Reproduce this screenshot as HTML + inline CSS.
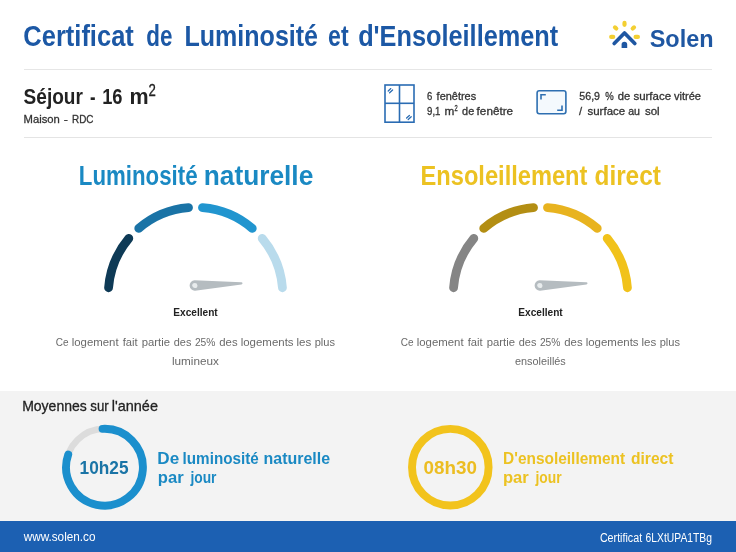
<!DOCTYPE html>
<html><head><meta charset="utf-8"><style>
html,body{margin:0;padding:0;}
body{width:736px;height:552px;overflow:hidden;position:relative;background:#fff;font-family:"Liberation Sans",sans-serif;}
svg{position:absolute;left:0;top:0;will-change:transform;}
</style></head><body>
<svg width="736" height="552" viewBox="0 0 736 552" font-family="Liberation Sans, sans-serif">
<rect x="0" y="0" width="736" height="552" fill="#ffffff"/>
<rect x="24" y="69" width="688" height="1" fill="#e6e6e6"/>
<rect x="24" y="137" width="688" height="1" fill="#e4e4e4"/>
<rect x="0" y="391" width="736" height="130" fill="#f3f3f3"/>
<rect x="0" y="521" width="736" height="31" fill="#1c60b2"/>
<g stroke="#f3cf32" stroke-width="4.2" stroke-linecap="round" fill="none"><line x1="624.5" y1="22.9" x2="624.5" y2="24.8"/><line x1="615.0" y1="27.4" x2="616.3" y2="28.5"/><line x1="634.0" y1="27.4" x2="632.7" y2="28.5"/><line x1="611.2" y1="36.9" x2="613.2" y2="36.9"/><line x1="635.6" y1="36.9" x2="637.9" y2="36.9"/></g><path d="M614.2 43.5L624.5 33L634.8 43.5" fill="none" stroke="#1f57a2" stroke-width="3.7" stroke-linecap="round" stroke-linejoin="round"/><path d="M621.6 48V44.5A2.8 2.8 0 0 1 627.2 44.5V48Z" fill="#1f57a2"/>
<g fill="none" stroke="#2a6cb3" stroke-width="1.6"><rect x="385" y="85" width="29" height="37.2"/><line x1="399.5" y1="85" x2="399.5" y2="122.2"/><line x1="385" y1="103.3" x2="414" y2="103.3"/></g><g stroke="#2a6cb3" stroke-width="1.3" stroke-linecap="round"><line x1="388.2" y1="91.0" x2="390.8" y2="88.6"/><line x1="389.6" y1="92.8" x2="392.6" y2="90.0"/><line x1="406.6" y1="118.0" x2="409.4" y2="115.4"/><line x1="408.2" y1="119.6" x2="411.2" y2="116.8"/></g>
<rect x="537.1" y="90.8" width="28.8" height="23" rx="2.2" fill="#f4f9fd" stroke="#2e6fb1" stroke-width="1.6"/><path d="M541 99.5V94.8H545.8M562 105.5V110.2H557.2" fill="none" stroke="#2e6fb1" stroke-width="1.6"/>
<path d="M108.57 287.76A87.2 87.2 0 0 1 128.80 238.43" stroke="#0e3a56" stroke-width="8.8" fill="none" stroke-linecap="round"/><path d="M138.75 228.39A87.2 87.2 0 0 1 188.51 207.68" stroke="#1a73a6" stroke-width="8.8" fill="none" stroke-linecap="round"/><path d="M202.49 207.68A87.2 87.2 0 0 1 252.25 228.39" stroke="#2195cf" stroke-width="8.8" fill="none" stroke-linecap="round"/><path d="M262.20 238.43A87.2 87.2 0 0 1 282.43 287.76" stroke="#b9dbec" stroke-width="8.8" fill="none" stroke-linecap="round"/><path d="M453.57 287.76A87.2 87.2 0 0 1 473.80 238.43" stroke="#858585" stroke-width="8.8" fill="none" stroke-linecap="round"/><path d="M483.75 228.39A87.2 87.2 0 0 1 533.51 207.68" stroke="#b38e13" stroke-width="8.8" fill="none" stroke-linecap="round"/><path d="M547.49 207.68A87.2 87.2 0 0 1 597.25 228.39" stroke="#e8b31f" stroke-width="8.8" fill="none" stroke-linecap="round"/><path d="M607.20 238.43A87.2 87.2 0 0 1 627.43 287.76" stroke="#f1c21b" stroke-width="8.8" fill="none" stroke-linecap="round"/><g transform="translate(194.8 285.5) rotate(-2.58)"><path d="M0 -5.2 L46.65 -1.1 A1.1 1.1 0 0 1 46.65 1.1 L0 5.2 A5.2 5.2 0 0 1 0 -5.2Z" fill="#b5bcc0"/><circle cx="0" cy="0" r="2.6" fill="#e8eced"/></g><g transform="translate(539.8 285.5) rotate(-2.58)"><path d="M0 -5.2 L46.65 -1.1 A1.1 1.1 0 0 1 46.65 1.1 L0 5.2 A5.2 5.2 0 0 1 0 -5.2Z" fill="#b5bcc0"/><circle cx="0" cy="0" r="2.6" fill="#e8eced"/></g>
<circle cx="104.5" cy="467.2" r="38.4" stroke="#dcdcdc" stroke-width="6.5" fill="none"/><path d="M102.56 428.85A38.4 38.4 0 1 1 68.24 454.57" stroke="#1b8fcd" stroke-width="7.9" fill="none" stroke-linecap="round"/><circle cx="450.3" cy="467.2" r="38.3" stroke="#f2c31c" stroke-width="7.9" fill="none"/>
<text x="23.32" y="45.50" font-size="29" font-weight="700" fill="#1c58a5" textLength="110.48" lengthAdjust="spacingAndGlyphs">Certificat</text><text x="146.33" y="45.50" font-size="29" font-weight="700" fill="#1c58a5" textLength="26.17" lengthAdjust="spacingAndGlyphs">de</text><text x="184.54" y="45.50" font-size="29" font-weight="700" fill="#1c58a5" textLength="133.47" lengthAdjust="spacingAndGlyphs">Luminosité</text><text x="328.10" y="45.50" font-size="29" font-weight="700" fill="#1c58a5" textLength="20.52" lengthAdjust="spacingAndGlyphs">et</text><text x="358.13" y="45.50" font-size="29" font-weight="700" fill="#1c58a5" textLength="200.07" lengthAdjust="spacingAndGlyphs">d&#39;Ensoleillement</text><text x="649.70" y="46.50" font-size="23" font-weight="700" fill="#1f57a2" textLength="63.87" lengthAdjust="spacingAndGlyphs">Solen</text><text x="23.60" y="104.30" font-size="21.5" font-weight="700" fill="#222222" textLength="59.24" lengthAdjust="spacingAndGlyphs">Séjour</text><text x="89.90" y="104.30" font-size="21.5" font-weight="700" fill="#222222" textLength="5.52" lengthAdjust="spacingAndGlyphs">-</text><text x="102.15" y="104.30" font-size="21.5" font-weight="700" fill="#222222" textLength="20.31" lengthAdjust="spacingAndGlyphs">16</text><text x="129.50" y="104.30" font-size="21.5" font-weight="700" fill="#222222" textLength="19.12" lengthAdjust="spacingAndGlyphs">m</text><text x="148.50" y="96.00" font-size="16.5" font-weight="400" fill="#222222" stroke="#222222" stroke-width="0.3" textLength="7.34" lengthAdjust="spacingAndGlyphs">2</text><text x="23.60" y="122.70" font-size="11.5" font-weight="400" fill="#333333" stroke="#333333" stroke-width="0.3" textLength="36.29" lengthAdjust="spacingAndGlyphs">Maison</text><text x="63.83" y="122.70" font-size="11.5" font-weight="400" fill="#333333" stroke="#333333" stroke-width="0.3" textLength="4.15" lengthAdjust="spacingAndGlyphs">-</text><text x="72.00" y="122.70" font-size="11.5" font-weight="400" fill="#333333" stroke="#333333" stroke-width="0.3" textLength="21.46" lengthAdjust="spacingAndGlyphs">RDC</text><text x="427.10" y="99.80" font-size="11.2" font-weight="400" fill="#333333" stroke="#333333" stroke-width="0.3" textLength="5.29" lengthAdjust="spacingAndGlyphs">6</text><text x="436.60" y="99.80" font-size="11.2" font-weight="400" fill="#333333" stroke="#333333" stroke-width="0.3" textLength="39.60" lengthAdjust="spacingAndGlyphs">fenêtres</text><text x="427.10" y="115.30" font-size="11.2" font-weight="400" fill="#333333" stroke="#333333" stroke-width="0.3" textLength="13.39" lengthAdjust="spacingAndGlyphs">9,1</text><text x="444.40" y="115.30" font-size="11.2" font-weight="400" fill="#333333" stroke="#333333" stroke-width="0.3" textLength="9.84" lengthAdjust="spacingAndGlyphs">m</text><text x="454.60" y="111.20" font-size="8.5" font-weight="400" fill="#333333" stroke="#333333" stroke-width="0.3" textLength="3.21" lengthAdjust="spacingAndGlyphs">2</text><text x="462.10" y="115.30" font-size="11.2" font-weight="400" fill="#333333" stroke="#333333" stroke-width="0.3" textLength="12.12" lengthAdjust="spacingAndGlyphs">de</text><text x="476.60" y="115.30" font-size="11.2" font-weight="400" fill="#333333" stroke="#333333" stroke-width="0.3" textLength="36.53" lengthAdjust="spacingAndGlyphs">fenêtre</text><text x="579.30" y="100.10" font-size="11.2" font-weight="400" fill="#333333" stroke="#333333" stroke-width="0.3" textLength="20.71" lengthAdjust="spacingAndGlyphs">56,9</text><text x="605.20" y="100.10" font-size="11.2" font-weight="400" fill="#333333" stroke="#333333" stroke-width="0.3" textLength="8.46" lengthAdjust="spacingAndGlyphs">%</text><text x="617.70" y="100.10" font-size="11.2" font-weight="400" fill="#333333" stroke="#333333" stroke-width="0.3" textLength="12.52" lengthAdjust="spacingAndGlyphs">de</text><text x="633.40" y="100.10" font-size="11.2" font-weight="400" fill="#333333" stroke="#333333" stroke-width="0.3" textLength="37.73" lengthAdjust="spacingAndGlyphs">surface</text><text x="673.90" y="100.10" font-size="11.2" font-weight="400" fill="#333333" stroke="#333333" stroke-width="0.3" textLength="27.12" lengthAdjust="spacingAndGlyphs">vitrée</text><text x="579.10" y="115.30" font-size="11.2" font-weight="400" fill="#333333" stroke="#333333" stroke-width="0.3" textLength="3.11" lengthAdjust="spacingAndGlyphs">/</text><text x="587.50" y="115.30" font-size="11.2" font-weight="400" fill="#333333" stroke="#333333" stroke-width="0.3" textLength="37.63" lengthAdjust="spacingAndGlyphs">surface</text><text x="628.20" y="115.30" font-size="11.2" font-weight="400" fill="#333333" stroke="#333333" stroke-width="0.3" textLength="11.81" lengthAdjust="spacingAndGlyphs">au</text><text x="644.90" y="115.30" font-size="11.2" font-weight="400" fill="#333333" stroke="#333333" stroke-width="0.3" textLength="14.70" lengthAdjust="spacingAndGlyphs">sol</text><text x="78.79" y="184.90" font-size="27.5" font-weight="700" fill="#1a89c3" textLength="118.75" lengthAdjust="spacingAndGlyphs">Luminosité</text><text x="203.74" y="184.90" font-size="27.5" font-weight="700" fill="#1a89c3" textLength="109.54" lengthAdjust="spacingAndGlyphs">naturelle</text><text x="420.54" y="184.90" font-size="27.5" font-weight="700" fill="#ecc222" textLength="166.90" lengthAdjust="spacingAndGlyphs">Ensoleillement</text><text x="594.51" y="184.90" font-size="27.5" font-weight="700" fill="#ecc222" textLength="66.33" lengthAdjust="spacingAndGlyphs">direct</text><text x="173.30" y="316.20" font-size="11" font-weight="700" fill="#222222" textLength="44.39" lengthAdjust="spacingAndGlyphs">Excellent</text><text x="518.30" y="316.20" font-size="11" font-weight="700" fill="#222222" textLength="44.39" lengthAdjust="spacingAndGlyphs">Excellent</text><text x="55.80" y="346.30" font-size="11.8" font-weight="400" fill="#6a6a6a" textLength="12.83" lengthAdjust="spacingAndGlyphs">Ce</text><text x="71.70" y="346.30" font-size="11.8" font-weight="400" fill="#6a6a6a" textLength="46.90" lengthAdjust="spacingAndGlyphs">logement</text><text x="122.70" y="346.30" font-size="11.8" font-weight="400" fill="#6a6a6a" textLength="14.92" lengthAdjust="spacingAndGlyphs">fait</text><text x="141.70" y="346.30" font-size="11.8" font-weight="400" fill="#6a6a6a" textLength="28.28" lengthAdjust="spacingAndGlyphs">partie</text><text x="173.80" y="346.30" font-size="11.8" font-weight="400" fill="#6a6a6a" textLength="17.61" lengthAdjust="spacingAndGlyphs">des</text><text x="194.90" y="346.30" font-size="11.8" font-weight="400" fill="#6a6a6a" textLength="20.56" lengthAdjust="spacingAndGlyphs">25%</text><text x="219.30" y="346.30" font-size="11.8" font-weight="400" fill="#6a6a6a" textLength="18.30" lengthAdjust="spacingAndGlyphs">des</text><text x="240.70" y="346.30" font-size="11.8" font-weight="400" fill="#6a6a6a" textLength="52.90" lengthAdjust="spacingAndGlyphs">logements</text><text x="296.40" y="346.30" font-size="11.8" font-weight="400" fill="#6a6a6a" textLength="14.80" lengthAdjust="spacingAndGlyphs">les</text><text x="314.70" y="346.30" font-size="11.8" font-weight="400" fill="#6a6a6a" textLength="20.30" lengthAdjust="spacingAndGlyphs">plus</text><text x="171.90" y="364.50" font-size="11.8" font-weight="400" fill="#6a6a6a" textLength="47.00" lengthAdjust="spacingAndGlyphs">lumineux</text><text x="400.80" y="346.30" font-size="11.8" font-weight="400" fill="#6a6a6a" textLength="12.83" lengthAdjust="spacingAndGlyphs">Ce</text><text x="416.70" y="346.30" font-size="11.8" font-weight="400" fill="#6a6a6a" textLength="46.90" lengthAdjust="spacingAndGlyphs">logement</text><text x="467.70" y="346.30" font-size="11.8" font-weight="400" fill="#6a6a6a" textLength="14.92" lengthAdjust="spacingAndGlyphs">fait</text><text x="486.70" y="346.30" font-size="11.8" font-weight="400" fill="#6a6a6a" textLength="28.28" lengthAdjust="spacingAndGlyphs">partie</text><text x="518.80" y="346.30" font-size="11.8" font-weight="400" fill="#6a6a6a" textLength="17.61" lengthAdjust="spacingAndGlyphs">des</text><text x="539.90" y="346.30" font-size="11.8" font-weight="400" fill="#6a6a6a" textLength="20.56" lengthAdjust="spacingAndGlyphs">25%</text><text x="564.30" y="346.30" font-size="11.8" font-weight="400" fill="#6a6a6a" textLength="18.30" lengthAdjust="spacingAndGlyphs">des</text><text x="585.70" y="346.30" font-size="11.8" font-weight="400" fill="#6a6a6a" textLength="52.90" lengthAdjust="spacingAndGlyphs">logements</text><text x="641.40" y="346.30" font-size="11.8" font-weight="400" fill="#6a6a6a" textLength="14.80" lengthAdjust="spacingAndGlyphs">les</text><text x="659.70" y="346.30" font-size="11.8" font-weight="400" fill="#6a6a6a" textLength="20.30" lengthAdjust="spacingAndGlyphs">plus</text><text x="515.00" y="364.50" font-size="11.8" font-weight="400" fill="#6a6a6a" textLength="50.81" lengthAdjust="spacingAndGlyphs">ensoleillés</text><text x="22.17" y="411.30" font-size="15" font-weight="400" fill="#222222" stroke="#222222" stroke-width="0.3" textLength="64.60" lengthAdjust="spacingAndGlyphs">Moyennes</text><text x="90.30" y="411.30" font-size="15" font-weight="400" fill="#222222" stroke="#222222" stroke-width="0.3" textLength="18.40" lengthAdjust="spacingAndGlyphs">sur</text><text x="111.84" y="411.30" font-size="15" font-weight="400" fill="#222222" stroke="#222222" stroke-width="0.3" textLength="46.09" lengthAdjust="spacingAndGlyphs">l&#39;année</text><text x="79.54" y="473.60" font-size="18" font-weight="700" fill="#1a74a6" textLength="48.97" lengthAdjust="spacingAndGlyphs">10h25</text><text x="423.60" y="473.60" font-size="18" font-weight="700" fill="#ecbd22" textLength="53.41" lengthAdjust="spacingAndGlyphs">08h30</text><text x="157.39" y="463.70" font-size="17" font-weight="700" fill="#1a89c3" textLength="21.86" lengthAdjust="spacingAndGlyphs">De</text><text x="182.60" y="463.70" font-size="17" font-weight="700" fill="#1a89c3" textLength="76.10" lengthAdjust="spacingAndGlyphs">luminosité</text><text x="263.56" y="463.70" font-size="17" font-weight="700" fill="#1a89c3" textLength="66.57" lengthAdjust="spacingAndGlyphs">naturelle</text><text x="157.82" y="483.00" font-size="17" font-weight="700" fill="#1a89c3" textLength="25.80" lengthAdjust="spacingAndGlyphs">par</text><text x="190.41" y="483.00" font-size="17" font-weight="700" fill="#1a89c3" textLength="26.08" lengthAdjust="spacingAndGlyphs">jour</text><text x="503.09" y="463.70" font-size="17" font-weight="700" fill="#ecc222" textLength="122.10" lengthAdjust="spacingAndGlyphs">D&#39;ensoleillement</text><text x="631.00" y="463.70" font-size="17" font-weight="700" fill="#ecc222" textLength="42.39" lengthAdjust="spacingAndGlyphs">direct</text><text x="502.92" y="483.00" font-size="17" font-weight="700" fill="#ecc222" textLength="25.80" lengthAdjust="spacingAndGlyphs">par</text><text x="535.51" y="483.00" font-size="17" font-weight="700" fill="#ecc222" textLength="26.08" lengthAdjust="spacingAndGlyphs">jour</text><text x="23.67" y="541.10" font-size="13.5" font-weight="400" fill="#ffffff" textLength="71.87" lengthAdjust="spacingAndGlyphs">www.solen.co</text><text x="599.90" y="541.70" font-size="12.5" font-weight="400" fill="#ffffff" textLength="42.25" lengthAdjust="spacingAndGlyphs">Certificat</text><text x="645.60" y="541.70" font-size="12.5" font-weight="400" fill="#ffffff" textLength="66.36" lengthAdjust="spacingAndGlyphs">6LXtUPA1TBg</text>
</svg>
</body></html>
